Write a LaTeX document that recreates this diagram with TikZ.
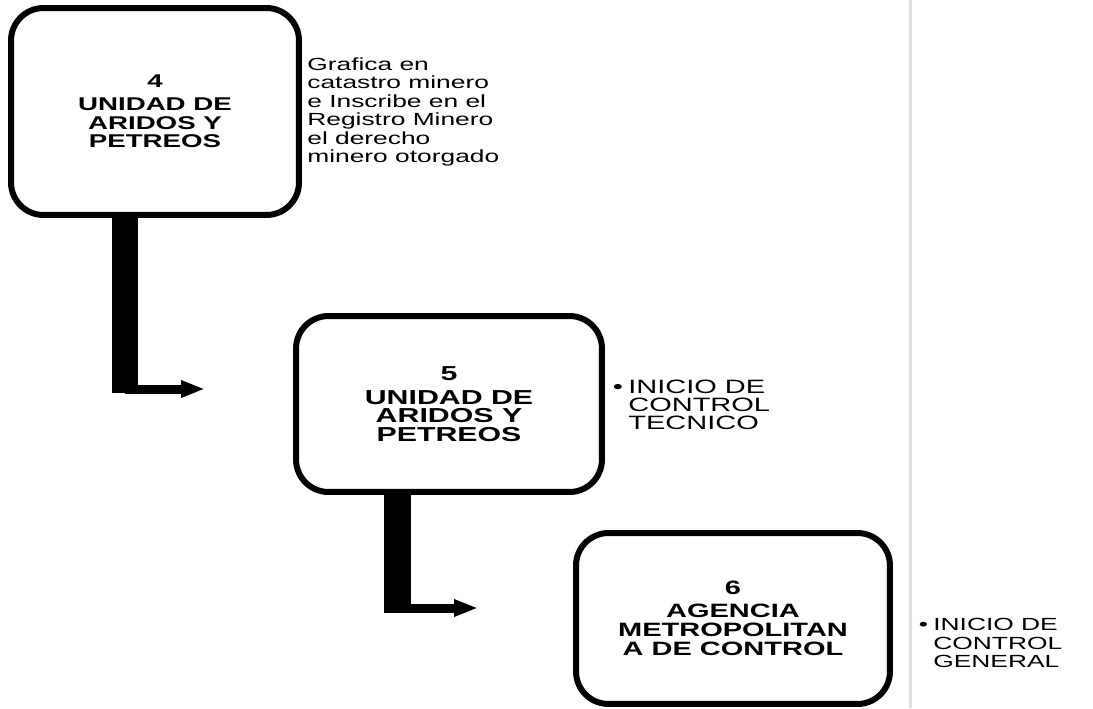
\documentclass[tikz,border=0pt]{standalone}
\usepackage{fontspec}
\setmainfont{Liberation Sans}[FakeStretch=1.5]
\usetikzlibrary{arrows.meta}

\tikzset{
  phase/.style={draw, line width=0.12cm, rounded corners=0.65cm, align=center, inner sep=0pt},
  note/.style={align=left, anchor=west, inner sep=0pt},
  stem/.style={line width=0.54cm},
  turn/.style={line width=0.18cm, -{Triangle[length=0.48cm,width=0.32cm]}},
}

\begin{document}
\begin{tikzpicture}[x=0.02cm, y=-0.02cm]
	\useasboundingbox (0,0) rectangle (1093,708);
	\draw[line width=0.06cm, black!12] (910,0) -- (910,708);
	% boxes
	\node[phase, minimum width=5.76cm, minimum height=4.14cm, font=\bfseries\fontsize{10.5}{10.8}\selectfont] (box4) at (155,111.5) {4\\[2pt]UNIDAD DE\\ARIDOS Y\\PETREOS};
	\node[phase, minimum width=6.12cm, minimum height=3.52cm, font=\bfseries\fontsize{11.5}{10.6}\selectfont] (box5) at (449,404) {5\\[3pt]UNIDAD DE\\ARIDOS Y\\PETREOS};
	\node[phase, minimum width=6.28cm, minimum height=3.42cm, font=\bfseries\fontsize{11}{11}\selectfont] (box6) at (733,618.5) {6\\[2pt]AGENCIA\\METROPOLITAN\\A DE CONTROL};
	% notes
	\node[note, font=\fontsize{10}{10.5}\selectfont] (note4) at (307,112) {Grafica en\\catastro minero\\e Inscribe en el\\Registro Minero\\el derecho\\minero otorgado};
	\node[note, font=\fontsize{11}{10.3}\selectfont] (note5) at (628,405) {\llap{•\hspace{3pt}}INICIO DE\\CONTROL\\TECNICO};
	\node[note, font=\fontsize{10}{10.5}\selectfont] (note6) at (933,643) {\llap{•\hspace{3pt}}INICIO DE\\CONTROL\\GENERAL};
	% arrows
	\coordinate (knee4) at (125,393);
	\coordinate (tip4) at (205,389);
	\draw[stem] (box4.south -| knee4) -- (knee4);
	\draw[turn] (knee4 |- tip4) -- (tip4);
	\coordinate (knee5) at (397,613);
	\coordinate (tip5) at (478,608);
	\draw[stem] (box5.south -| knee5) -- (knee5);
	\draw[turn] (knee5 |- tip5) -- (tip5);
\end{tikzpicture}
\end{document}
